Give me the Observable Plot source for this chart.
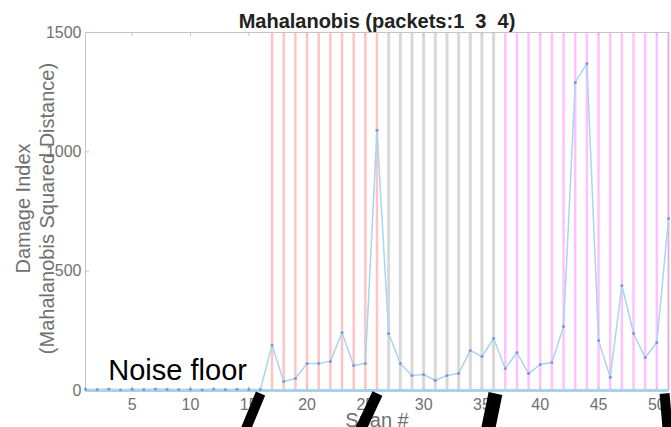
<!DOCTYPE html>
<html>
<head>
<meta charset="utf-8">
<script src="https://cdn.jsdelivr.net/npm/d3@7"></script>
<script src="https://cdn.jsdelivr.net/npm/@observablehq/plot@0.6"></script>
<style>
  html, body { margin: 0; padding: 0; background: white; }
  svg { display: block; }
</style>
</head>
<body>
<div id="chart"></div>
<script>
const spans = [1,2,3,4,5,6,7,8,9,10,11,12,13,14,15,16,17,18,19,20,21,22,23,24,25,26,27,28,29,30,31,32,33,34,35,36,37,38,39,40,41,42,43,44,45,46,47,48,49,50,51];
const damage = [5,4,6,3,5,4,6,5,4,5,3,6,4,5,4,4,
  190,38,50,113,113,122,243,105,113,1090,
  239,113,63,67,42,63,71,168,142,218,
  92,159,71,109,117,268,1291,1370,210,55,440,239,138,201,721];
const redSpans = [17,18,19,20,21,22,23,24,25,26];
const graySpans = [27,28,29,30,31,32,33,34,35,36];
const magentaSpans = [37,38,39,40,41,42,43,44,45,46,47,48,49,50,51];
const xTicks = [5,10,15,20,25,30,35,40,45,50];
const yTicks = [0,500,1000,1500];
const titleText = "Mahalanobis (packets:1  3  4)";
const yLabel = "Damage Index\n(Mahalanobis Squared Distance)";
const xLabel = "Span #";
const noteText = ["Noise floor"];
const noteX = [8.9];
const noteY = [42];
const slashX1 = [14.43, 24.24, 35.37, 50.99];
const slashX2 = [16.01, 26.04, 36.16, 50.66];
const slashY1 = [-200, -200, -200, -200];
const slashY2 = [-12.6, -12.6, -12.6, -12.6];
const slashW = [10, 11, 14, 10];

const data = spans.map((s, i) => ({span: s, value: damage[i]}));
const notes = noteText.map((t, i) => ({text: t, x: noteX[i], y: noteY[i]}));
const slashes = slashX1.map((x, i) => ({x1: x, x2: slashX2[i], y1: slashY1[i], y2: slashY2[i], w: slashW[i]}));

const gray = "#707070";
const chart = Plot.plot({
  width: 671,
  height: 427,
  marginLeft: 85,
  marginRight: 3,
  marginTop: 32,
  marginBottom: 37,
  x: {domain: [1, 51]},
  y: {domain: [0, 1500]},
  style: {fontFamily: "'Liberation Sans', Arial, sans-serif", background: "white", overflow: "hidden"},
  marks: [
    Plot.ruleX(redSpans, {x: d => d, stroke: "#ffc4c4", strokeWidth: 2.5}),
    Plot.ruleX(graySpans, {x: d => d, stroke: "#d8d8d8", strokeWidth: 3}),
    Plot.ruleX(magentaSpans, {x: d => d, stroke: "#ffc2ff", strokeWidth: 2.5}),
    Plot.frame({stroke: "#c4c4c4"}),
    Plot.ruleX(xTicks, {x: d => d, y1: 0, y2: 16, stroke: "#c4c4c4"}),
    Plot.ruleX(xTicks, {x: d => d, y1: 1500, y2: 1484, stroke: "#c4c4c4"}),
    Plot.ruleY(yTicks, {y: d => d, x1: 1, x2: 1.35, stroke: "#c4c4c4"}),
    Plot.ruleY([0], {stroke: "#a9d1ea", strokeWidth: 3}),
    Plot.line(data, {x: "span", y: "value", stroke: "#a8d6ee", strokeWidth: 1.5}),
    Plot.dot(data, {x: "span", y: "value", r: 1.5, fill: "#8890d8", stroke: null}),
    Plot.axisX(xTicks, {tickSize: 0, tickPadding: 8, fontSize: 16, color: gray, label: null, tickFormat: d => String(d)}),
    Plot.axisY(yTicks, {tickSize: 0, tickPadding: 4, fontSize: 16, color: gray, label: null, tickFormat: d => String(d)}),
    Plot.text([titleText], {frameAnchor: "top", dy: -5, lineAnchor: "bottom", fontSize: 20, fontWeight: "bold", fill: "#222"}),
    Plot.text([yLabel], {frameAnchor: "left", dx: -51, dy: -3, rotate: -90, textAnchor: "middle", lineAnchor: "middle", lineHeight: 1.2, fontSize: 20, fill: gray}),
    Plot.text([xLabel], {frameAnchor: "bottom", dy: 36, lineAnchor: "bottom", fontSize: 20, fill: gray}),
    Plot.text(notes, {x: "x", y: "y", text: "text", lineAnchor: "bottom", fontSize: 29, fill: "black"}),
    Plot.link(slashes, {x1: "x1", x2: "x2", y1: "y1", y2: "y2", stroke: "black", strokeWidth: "w", strokeLinecap: "butt"})
  ]
});
document.getElementById("chart").appendChild(chart);
</script>
</body>
</html>
